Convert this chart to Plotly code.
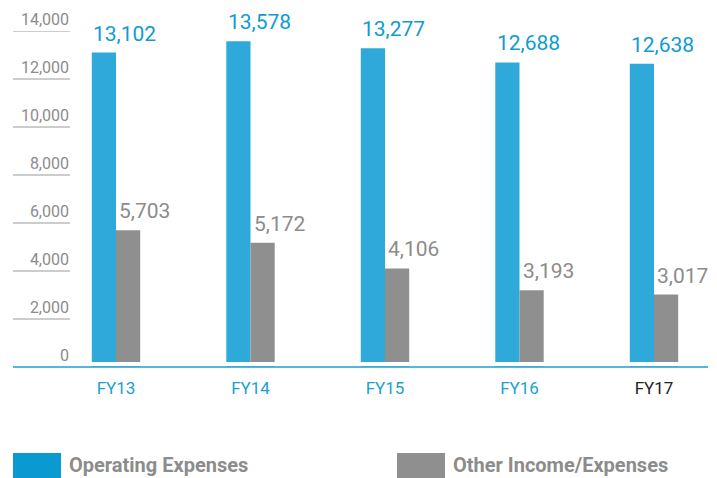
import plotly.graph_objects as go

# ---- data ----
categories = ["FY13", "FY14", "FY15", "FY16", "FY17"]
operating_expenses = [13102, 13578, 13277, 12688, 12638]
other_income_expenses = [5703, 5172, 4106, 3193, 3017]
series_names = ["Operating Expenses", "Other Income/Expenses"]
y_tick_values = [0, 2000, 4000, 6000, 8000, 10000, 12000, 14000]
y_tick_labels = ["0", "2,000", "4,000", "6,000", "8,000", "10,000", "12,000", "14,000"]

# ---- style / layout constants ----
W, H = 717, 478
ML, MR, MT, MB = 75, 9, 31, 111
PW, PH = W - ML - MR, H - MT - MB
BLUE_BAR = "#2ea9da"
BLUE_TXT = "#0f9bd3"
GRAY_BAR = "#8f8f8f"
GRAY_TXT = "#8c8c8c"
FONT = "Roboto, sans-serif"


def px(xp):
    return (xp - ML) / PW


def py(yp):
    return (H - MB - yp) / PH


fig = go.Figure()
fig.add_trace(go.Bar(x=categories, y=operating_expenses, name=series_names[0],
                     marker=dict(color=BLUE_BAR, line=dict(width=0)), showlegend=False))
fig.add_trace(go.Bar(x=categories, y=other_income_expenses, name=series_names[1],
                     marker=dict(color=GRAY_BAR, line=dict(width=0)), showlegend=False))

annotations = []
for c, v in zip(categories, operating_expenses):
    annotations.append(dict(x=c, y=v, text=f"{v:,}", showarrow=False, xanchor="left",
                            yanchor="bottom", xshift=-25, yshift=5,
                            font=dict(family=FONT, size=21, color=BLUE_TXT)))
for c, v in zip(categories, other_income_expenses):
    annotations.append(dict(x=c, y=v, text=f"{v:,}", showarrow=False, xanchor="left",
                            yanchor="bottom", xshift=1, yshift=5,
                            font=dict(family=FONT, size=21, color=GRAY_TXT)))

# legend (custom, big swatches)
legend_items = [(13, 61, 67, "#0a99d0"), (397, 445, 451, GRAY_BAR)]
shapes = []
for (x0, x1, tx, col), name in zip(legend_items, series_names):
    shapes.append(dict(type="rect", xref="paper", yref="paper", x0=px(x0), x1=px(x1),
                       y0=py(453), y1=py(482), fillcolor=col, line=dict(width=0)))
    annotations.append(dict(xref="paper", yref="paper", x=px(tx), y=py(465), text=f"<b>{name}</b>",
                            showarrow=False, xanchor="left", yanchor="middle",
                            font=dict(family=FONT, size=20, color=GRAY_TXT)))

# underlines beneath y tick labels
for v in y_tick_values[1:]:
    shapes.append(dict(type="line", xref="paper", yref="y", x0=px(13), x1=px(70), y0=v, y1=v,
                       line=dict(color="#9a9a9a", width=1)))
# white gap above axis line
shapes.append(dict(type="rect", xref="paper", yref="paper", x0=px(80), x1=1, y0=py(366.5), y1=py(362),
                   fillcolor="white", line=dict(width=0), layer="above"))
# blue axis line
shapes.append(dict(type="line", xref="paper", yref="paper", x0=px(13), x1=px(708), y0=py(367), y1=py(367),
                   line=dict(color="#1a9fd4", width=1.5), layer="above"))

tick_text = [c if c != "FY17" else f"<span style='color:#222222'>{c}</span>" for c in categories]

fig.update_layout(
    width=W, height=H,
    margin=dict(l=ML, r=MR, t=MT, b=MB),
    paper_bgcolor="white", plot_bgcolor="white",
    barmode="group", bargap=0.64, bargroupgap=0,
    annotations=annotations, shapes=shapes,
    xaxis=dict(type="category", range=[(ML - 116) / 134.5, (W - MR - 116) / 134.5],
               tickmode="array", tickvals=categories, ticktext=tick_text,
               tickfont=dict(family=FONT, size=17, color="#1a9fd4"),
               showgrid=False, zeroline=False, showline=False, ticks="outside",
               ticklen=6, tickcolor="rgba(0,0,0,0)"),
    yaxis=dict(range=[0, 14000], tickmode="array", tickvals=y_tick_values, ticktext=y_tick_labels,
               tickfont=dict(family=FONT, size=16, color=GRAY_TXT),
               showgrid=False, zeroline=False, showline=False, ticks="",
               ticklabelshift=-12, ticklabelstandoff=5),
)

fig.write_html("out.html", config={"displayModeBar": False},
               post_script="document.body.style.margin='0';")
